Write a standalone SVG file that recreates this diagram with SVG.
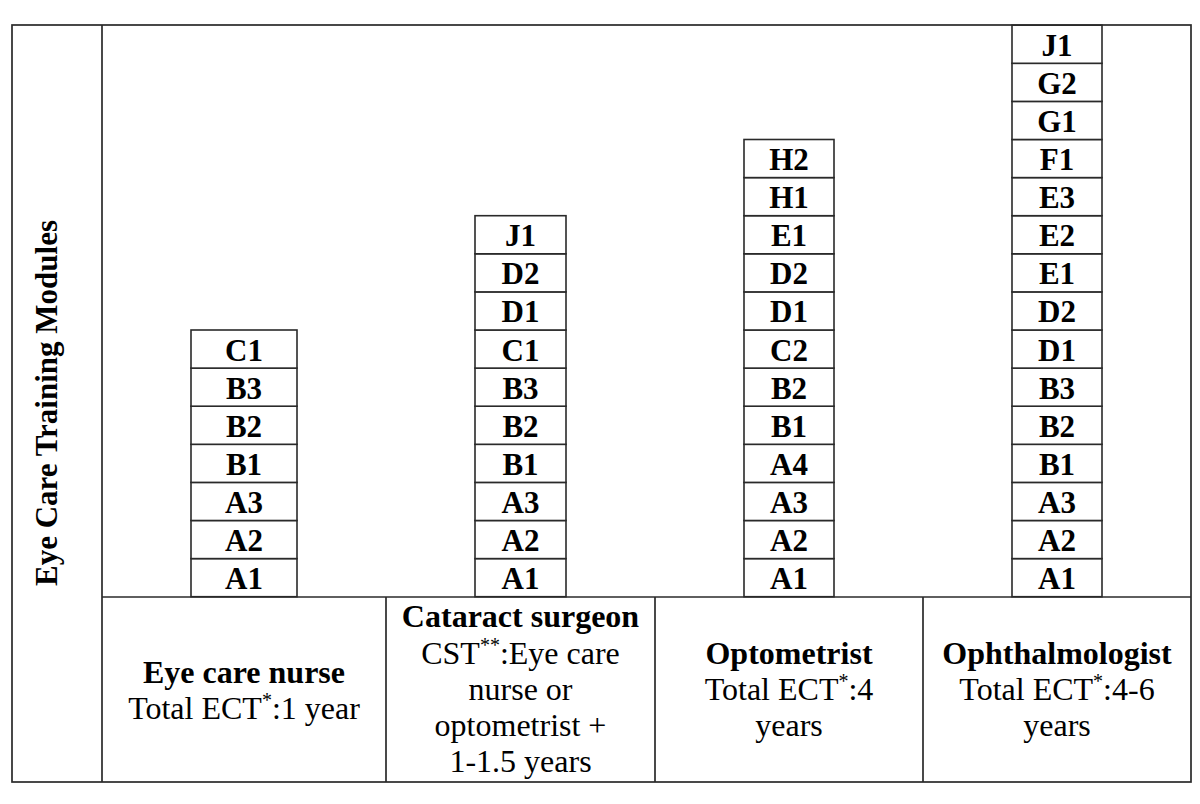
<svg xmlns="http://www.w3.org/2000/svg" width="1200" height="804" viewBox="0 0 1200 804">
<style>
.frame{fill:none;stroke:#2a2a2a;stroke-width:1.7}
.cell{fill:#fff;stroke:#2a2a2a;stroke-width:1.6}
.mod{font-family:"Liberation Serif","Times New Roman",serif;font-weight:bold;font-size:31px;fill:#000;text-anchor:middle}
.lbl{font-family:"Liberation Serif","Times New Roman",serif;font-size:32px;fill:#000;text-anchor:middle}
.b{font-weight:bold}
.sup{font-size:20px}
</style>
<rect width="1200" height="804" fill="#fff"/>
<g id="table">
<rect class="frame" x="12" y="25" width="1179" height="757"/>
<line class="frame" x1="102" y1="25" x2="102" y2="782"/>
<line class="frame" x1="102" y1="597" x2="1191" y2="597"/>
<line class="frame" x1="386" y1="597" x2="386" y2="782"/>
<line class="frame" x1="655" y1="597" x2="655" y2="782"/>
<line class="frame" x1="923" y1="597" x2="923" y2="782"/>
</g>
<g id="axis-label">
<text class="mod" transform="translate(57,403) rotate(-90)" font-size="32">Eye Care Training Modules</text>
</g>
<g id="stack-nurse">
<rect class="cell" x="191" y="558.6" width="106" height="38.1"/><text class="mod" x="244" y="589.1">A1</text>
<rect class="cell" x="191" y="520.5" width="106" height="38.1"/><text class="mod" x="244" y="551">A2</text>
<rect class="cell" x="191" y="482.4" width="106" height="38.1"/><text class="mod" x="244" y="512.9">A3</text>
<rect class="cell" x="191" y="444.3" width="106" height="38.1"/><text class="mod" x="244" y="474.8">B1</text>
<rect class="cell" x="191" y="406.2" width="106" height="38.1"/><text class="mod" x="244" y="436.7">B2</text>
<rect class="cell" x="191" y="368.1" width="106" height="38.1"/><text class="mod" x="244" y="398.6">B3</text>
<rect class="cell" x="191" y="330" width="106" height="38.1"/><text class="mod" x="244" y="360.5">C1</text>
</g>
<g id="stack-cataract">
<rect class="cell" x="475" y="558.6" width="91" height="38.1"/><text class="mod" x="520.5" y="589.1">A1</text>
<rect class="cell" x="475" y="520.5" width="91" height="38.1"/><text class="mod" x="520.5" y="551">A2</text>
<rect class="cell" x="475" y="482.4" width="91" height="38.1"/><text class="mod" x="520.5" y="512.9">A3</text>
<rect class="cell" x="475" y="444.3" width="91" height="38.1"/><text class="mod" x="520.5" y="474.8">B1</text>
<rect class="cell" x="475" y="406.2" width="91" height="38.1"/><text class="mod" x="520.5" y="436.7">B2</text>
<rect class="cell" x="475" y="368.1" width="91" height="38.1"/><text class="mod" x="520.5" y="398.6">B3</text>
<rect class="cell" x="475" y="330" width="91" height="38.1"/><text class="mod" x="520.5" y="360.5">C1</text>
<rect class="cell" x="475" y="291.9" width="91" height="38.1"/><text class="mod" x="520.5" y="322.4">D1</text>
<rect class="cell" x="475" y="253.8" width="91" height="38.1"/><text class="mod" x="520.5" y="284.3">D2</text>
<rect class="cell" x="475" y="215.7" width="91" height="38.1"/><text class="mod" x="520.5" y="246.2">J1</text>
</g>
<g id="stack-optometrist">
<rect class="cell" x="744" y="558.6" width="90" height="38.1"/><text class="mod" x="789" y="589.1">A1</text>
<rect class="cell" x="744" y="520.5" width="90" height="38.1"/><text class="mod" x="789" y="551">A2</text>
<rect class="cell" x="744" y="482.4" width="90" height="38.1"/><text class="mod" x="789" y="512.9">A3</text>
<rect class="cell" x="744" y="444.3" width="90" height="38.1"/><text class="mod" x="789" y="474.8">A4</text>
<rect class="cell" x="744" y="406.2" width="90" height="38.1"/><text class="mod" x="789" y="436.7">B1</text>
<rect class="cell" x="744" y="368.1" width="90" height="38.1"/><text class="mod" x="789" y="398.6">B2</text>
<rect class="cell" x="744" y="330" width="90" height="38.1"/><text class="mod" x="789" y="360.5">C2</text>
<rect class="cell" x="744" y="291.9" width="90" height="38.1"/><text class="mod" x="789" y="322.4">D1</text>
<rect class="cell" x="744" y="253.8" width="90" height="38.1"/><text class="mod" x="789" y="284.3">D2</text>
<rect class="cell" x="744" y="215.7" width="90" height="38.1"/><text class="mod" x="789" y="246.2">E1</text>
<rect class="cell" x="744" y="177.6" width="90" height="38.1"/><text class="mod" x="789" y="208.1">H1</text>
<rect class="cell" x="744" y="139.5" width="90" height="38.1"/><text class="mod" x="789" y="170">H2</text>
</g>
<g id="stack-ophthalmologist">
<rect class="cell" x="1012" y="558.6" width="90" height="38.1"/><text class="mod" x="1057" y="589.1">A1</text>
<rect class="cell" x="1012" y="520.5" width="90" height="38.1"/><text class="mod" x="1057" y="551">A2</text>
<rect class="cell" x="1012" y="482.4" width="90" height="38.1"/><text class="mod" x="1057" y="512.9">A3</text>
<rect class="cell" x="1012" y="444.3" width="90" height="38.1"/><text class="mod" x="1057" y="474.8">B1</text>
<rect class="cell" x="1012" y="406.2" width="90" height="38.1"/><text class="mod" x="1057" y="436.7">B2</text>
<rect class="cell" x="1012" y="368.1" width="90" height="38.1"/><text class="mod" x="1057" y="398.6">B3</text>
<rect class="cell" x="1012" y="330" width="90" height="38.1"/><text class="mod" x="1057" y="360.5">D1</text>
<rect class="cell" x="1012" y="291.9" width="90" height="38.1"/><text class="mod" x="1057" y="322.4">D2</text>
<rect class="cell" x="1012" y="253.8" width="90" height="38.1"/><text class="mod" x="1057" y="284.3">E1</text>
<rect class="cell" x="1012" y="215.7" width="90" height="38.1"/><text class="mod" x="1057" y="246.2">E2</text>
<rect class="cell" x="1012" y="177.6" width="90" height="38.1"/><text class="mod" x="1057" y="208.1">E3</text>
<rect class="cell" x="1012" y="139.5" width="90" height="38.1"/><text class="mod" x="1057" y="170">F1</text>
<rect class="cell" x="1012" y="101.4" width="90" height="38.1"/><text class="mod" x="1057" y="131.9">G1</text>
<rect class="cell" x="1012" y="63.3" width="90" height="38.1"/><text class="mod" x="1057" y="93.8">G2</text>
<rect class="cell" x="1012" y="25.2" width="90" height="38.1"/><text class="mod" x="1057" y="55.7">J1</text>
</g>
<g id="label-nurse">
<text class="lbl b" x="244" y="682.7">Eye care nurse</text>
<text class="lbl" x="244" y="719">Total ECT<tspan class="sup" dy="-12">*</tspan><tspan dy="12">:1 year</tspan></text>
</g>
<g id="label-cataract">
<text class="lbl b" x="520.5" y="626.7">Cataract surgeon</text>
<text class="lbl" x="520.5" y="664">CST<tspan class="sup" dy="-12">**</tspan><tspan dy="12">:Eye care</tspan></text>
<text class="lbl" x="520.5" y="700">nurse or</text>
<text class="lbl" x="520.5" y="736">optometrist +</text>
<text class="lbl" x="520.5" y="772">1-1.5 years</text>
</g>
<g id="label-optometrist">
<text class="lbl b" x="789" y="664">Optometrist</text>
<text class="lbl" x="789" y="700">Total ECT<tspan class="sup" dy="-12">*</tspan><tspan dy="12">:4</tspan></text>
<text class="lbl" x="789" y="736">years</text>
</g>
<g id="label-ophthalmologist">
<text class="lbl b" x="1057" y="664">Ophthalmologist</text>
<text class="lbl" x="1057" y="700">Total ECT<tspan class="sup" dy="-12">*</tspan><tspan dy="12">:4-6</tspan></text>
<text class="lbl" x="1057" y="736">years</text>
</g>
<g id="connectors"></g>
</svg>
